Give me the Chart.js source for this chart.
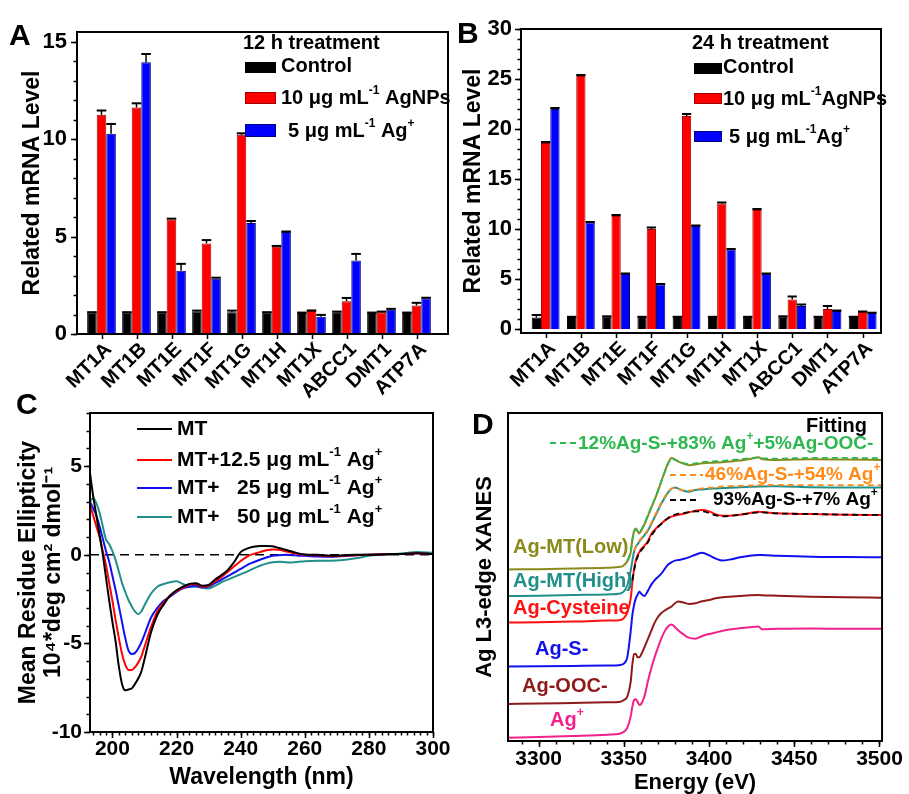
<!DOCTYPE html>
<html><head><meta charset="utf-8">
<script src="https://cdn.jsdelivr.net/npm/chart.js@4.4.1/dist/chart.umd.min.js"></script>
<style>
html,body{margin:0;padding:0;background:#fff;}
#wrap{position:relative;width:909px;height:794px;overflow:hidden;background:#fff;}
canvas{position:absolute;left:0;top:0;}
</style></head><body>
<div id="wrap">
<canvas id="cA" width="909" height="794"></canvas>
<canvas id="cB" width="909" height="794"></canvas>
<canvas id="cC" width="909" height="794"></canvas>
<canvas id="cD" width="909" height="794"></canvas>
</div>
<script>
// ---------- DATA ----------
const genes = ['MT1A','MT1B','MT1E','MT1F','MT1G','MT1H','MT1X','ABCC1','DMT1','ATP7A'];
// Panel A: 12 h treatment
const ctrl12     = [1.10, 1.10, 1.10, 1.15, 1.12, 1.10, 1.08, 1.12, 1.08, 1.08];
const ctrl12Err  = [0.02, 0.02, 0.02, 0.05, 0.08, 0.02, 0.02, 0.03, 0.02, 0.02];
const agnp12     = [11.25, 11.62, 5.88, 4.65, 10.22, 4.48, 1.18, 1.68, 1.12, 1.46];
const agnp12Err  = [0.22, 0.22, 0.04, 0.17, 0.08, 0.04, 0.03, 0.17, 0.03, 0.14];
const agion12    = [10.28, 13.95, 3.25, 2.83, 5.70, 5.23, 0.88, 3.77, 1.25, 1.83];
const agion12Err = [0.50, 0.42, 0.35, 0.06, 0.10, 0.03, 0.10, 0.34, 0.04, 0.03];
// Panel B: 24 h treatment
const ctrl24     = [1.15, 1.20, 1.25, 1.20, 1.20, 1.20, 1.20, 1.25, 1.20, 1.20];
const ctrl24Err  = [0.25, 0.02, 0.02, 0.02, 0.02, 0.02, 0.02, 0.02, 0.02, 0.02];
const agnp24     = [18.6, 25.3, 11.3, 10.0, 21.3, 12.55, 11.9, 2.95, 2.0, 1.7];
const agnp24Err  = [0.10, 0.10, 0.10, 0.15, 0.20, 0.10, 0.10, 0.30, 0.30, 0.05];
const agion24    = [22.0, 10.65, 5.5, 4.45, 10.3, 7.95, 5.5, 2.3, 1.8, 1.6];
const agion24Err = [0.10, 0.05, 0.05, 0.05, 0.05, 0.05, 0.05, 0.15, 0.05, 0.03];

// Panel C: CD spectra (wavelength nm)
const wavelength = [193,194,195,196,197,198,199,200,201,202,203,204,205,206,207,208,209,210,212,214,216,218,220,222,224,226,228,230,232,234,236,238,240,242,244,246,248,250,252,254,256,258,260,264,268,272,276,280,285,290,295,300];
const cdMT   = [4.6,3.3,2.2,1.1,0.0,-1.3,-2.6,-3.8,-4.9,-6.3,-7.3,-7.65,-7.6,-7.55,-7.3,-7.0,-6.6,-5.9,-4.4,-3.4,-2.8,-2.3,-2.0,-1.8,-1.65,-1.6,-1.75,-1.7,-1.4,-1.15,-0.85,-0.4,0.15,0.35,0.45,0.5,0.5,0.48,0.38,0.28,0.18,0.08,0.02,0.0,-0.05,-0.03,0.0,0.0,0.03,0.05,0.08,0.05];
const cd125  = [2.8,2.2,1.6,1.0,0.2,-0.6,-1.6,-2.6,-3.7,-4.7,-5.6,-6.2,-6.5,-6.5,-6.35,-6.1,-5.75,-5.2,-4.1,-3.2,-2.7,-2.3,-2.05,-1.85,-1.7,-1.65,-1.8,-1.75,-1.5,-1.25,-0.95,-0.65,-0.35,-0.1,0.05,0.15,0.25,0.3,0.28,0.2,0.12,0.05,0.0,-0.03,-0.08,-0.05,-0.02,0.0,0.03,0.05,0.08,0.05];
const cd25   = [3.0,2.6,2.2,1.6,0.9,0.2,-0.4,-1.2,-2.0,-2.9,-3.8,-4.7,-5.4,-5.6,-5.55,-5.3,-4.95,-4.5,-3.55,-3.0,-2.6,-2.35,-2.1,-1.9,-1.8,-1.75,-1.85,-1.8,-1.6,-1.4,-1.2,-1.0,-0.8,-0.58,-0.42,-0.28,-0.15,-0.06,-0.02,0.0,-0.02,-0.05,-0.06,-0.1,-0.11,-0.08,-0.03,0.0,0.03,0.05,0.08,0.05];
const cd50   = [3.0,3.2,2.9,2.35,1.6,0.85,0.6,0.2,-0.3,-0.95,-1.6,-2.1,-2.55,-2.9,-3.2,-3.35,-3.2,-2.85,-2.2,-1.8,-1.65,-1.55,-1.5,-1.65,-1.8,-1.8,-1.85,-1.9,-1.75,-1.55,-1.4,-1.25,-1.1,-0.95,-0.78,-0.62,-0.5,-0.42,-0.4,-0.42,-0.43,-0.4,-0.36,-0.34,-0.34,-0.3,-0.2,-0.06,0.0,0.07,0.15,0.12];

// Panel D: XANES (energy eV, stacked normalized intensity)
const energy = [3282,3300,3320,3340,3348,3350,3352,3354,3355,3356,3357,3358,3359,3360,3362,3364,3366,3368,3370,3372,3374,3376,3378,3380,3382,3385,3388,3392,3396,3400,3404,3408,3412,3418,3424,3429,3431,3440,3460,3480,3501];
const xAgIon  = [0.10,0.12,0.15,0.19,0.23,0.28,0.40,0.75,1.05,1.25,1.27,1.2,1.1,1.12,1.35,1.8,2.2,2.55,2.85,3.13,3.35,3.5,3.55,3.47,3.37,3.25,3.15,3.12,3.2,3.26,3.31,3.36,3.4,3.44,3.47,3.49,3.41,3.42,3.43,3.42,3.42];
const xAgOOC  = [1.13,1.14,1.16,1.18,1.2,1.25,1.35,1.8,2.35,2.65,2.66,2.55,2.55,2.62,2.85,3.1,3.35,3.6,3.78,3.9,3.98,4.04,4.1,4.2,4.25,4.22,4.18,4.2,4.26,4.3,4.35,4.38,4.4,4.42,4.44,4.45,4.44,4.43,4.4,4.38,4.37];
const xAgS    = [2.27,2.28,2.29,2.3,2.32,2.36,2.55,3.35,3.85,4.15,4.35,4.45,4.55,4.5,4.42,4.57,4.76,4.9,5.0,5.1,5.25,5.38,5.45,5.5,5.52,5.55,5.6,5.68,5.74,5.66,5.56,5.5,5.53,5.6,5.65,5.67,5.67,5.65,5.62,5.61,5.6];
const xAgCys  = [3.61,3.62,3.64,3.67,3.69,3.75,3.92,4.35,4.85,5.25,5.5,5.66,5.75,5.84,5.95,6.08,6.3,6.43,6.54,6.63,6.72,6.79,6.84,6.87,6.9,6.93,6.97,7.02,7.04,7.0,6.91,6.87,6.87,6.9,6.95,6.99,6.98,6.94,6.92,6.9,6.89];
const xMTHigh = [4.42,4.43,4.45,4.47,4.5,4.56,4.75,5.2,5.5,5.78,5.92,6.0,6.07,6.15,6.27,6.41,6.6,6.82,7.03,7.24,7.42,7.58,7.69,7.73,7.69,7.63,7.6,7.65,7.67,7.69,7.7,7.71,7.72,7.74,7.75,7.76,7.76,7.77,7.74,7.73,7.73];
const xMTLow  = [5.23,5.24,5.26,5.28,5.31,5.36,5.48,5.75,6.15,6.4,6.48,6.4,6.33,6.4,6.6,6.85,7.1,7.35,7.62,7.92,8.21,8.48,8.63,8.58,8.52,8.46,8.41,8.43,8.47,8.48,8.49,8.5,8.52,8.55,8.6,8.65,8.6,8.57,8.59,8.58,8.57];
const fitLow  = [null,null,null,null,null,null,5.5,5.78,6.12,6.36,6.45,6.4,6.35,6.42,6.62,6.87,7.12,7.37,7.64,7.93,8.2,8.46,8.6,8.57,8.52,8.47,8.44,8.46,8.5,8.52,8.53,8.54,8.56,8.59,8.62,8.64,8.62,8.61,8.63,8.63,8.62];
const fitHigh = [null,null,null,null,null,null,null,null,null,5.8,5.93,6.02,6.1,6.17,6.3,6.44,6.63,6.85,7.06,7.27,7.45,7.6,7.7,7.72,7.68,7.64,7.63,7.67,7.7,7.72,7.74,7.76,7.77,7.78,7.79,7.8,7.8,7.81,7.8,7.8,7.8];
const fitCys  = [null,null,null,null,null,null,null,null,4.9,5.2,5.45,5.6,5.72,5.8,5.92,6.05,6.25,6.4,6.52,6.62,6.72,6.8,6.86,6.9,6.93,6.95,6.98,7.0,7.0,6.95,6.88,6.85,6.86,6.9,6.94,6.97,6.97,6.94,6.92,6.9,6.89];

// ---------- HELPERS ----------
const FONT = "'Liberation Sans', Arial, Helvetica, sans-serif";
Chart.defaults.font.family = FONT;
Chart.defaults.color = '#000';
Chart.defaults.animation = false;
Chart.defaults.events = [];

function rich(ctx, parts, x, y, size, color, align) {
  const main = `bold ${size}px ${FONT}`, sup = `bold ${Math.round(size * 0.62)}px ${FONT}`;
  let w = 0;
  parts.forEach(([t, s]) => { ctx.font = s ? sup : main; w += ctx.measureText(t).width; });
  let cx = align === 'right' ? x - w : (align === 'center' ? x - w / 2 : x);
  ctx.fillStyle = color; ctx.textBaseline = 'middle'; ctx.textAlign = 'left';
  parts.forEach(([t, s]) => {
    ctx.font = s ? sup : main;
    ctx.fillText(t, cx, s ? y - size * 0.36 : y);
    cx += ctx.measureText(t).width;
  });
}
function letter(ctx, t, x, y) {
  ctx.font = `bold 30px ${FONT}`; ctx.fillStyle = '#000';
  ctx.textBaseline = 'alphabetic'; ctx.textAlign = 'left';
  ctx.fillText(t, x, y);
}
function makeFrame(marks) {
  return {
    id: 'frame',
    afterDraw(chart) {
      const {ctx, chartArea: a} = chart;
      ctx.save();
      ctx.strokeStyle = '#000';
      ctx.lineWidth = 1.5;
      marks.forEach(m => {
        const s = chart.scales[m.scale];
        const list = [];
        s.ticks.forEach(t => list.push([t.value, m.len]));
        if (m.minor) {
          for (let v = Math.ceil(s.min / m.minor) * m.minor; v <= s.max + 1e-9; v += m.minor) list.push([v, m.minorLen]);
        }
        list.forEach(([v, len]) => {
          const p = Math.round(s.getPixelForValue(v)) + 0.5;
          ctx.beginPath();
          if (s.isHorizontal()) { ctx.moveTo(p, a.bottom); ctx.lineTo(p, a.bottom + len); }
          else { ctx.moveTo(a.left, p); ctx.lineTo(a.left - len, p); }
          ctx.stroke();
        });
      });
      ctx.lineWidth = 2;
      ctx.strokeRect(a.left, a.top, a.right - a.left, a.bottom - a.top);
      ctx.restore();
    }
  };
}
const errorBars = {
  id: 'errorBars',
  afterDatasetsDraw(chart) {
    const {ctx} = chart, ys = chart.scales.y;
    ctx.save(); ctx.strokeStyle = '#000';
    chart.data.datasets.forEach((ds, di) => {
      if (!ds.errors) return;
      chart.getDatasetMeta(di).data.forEach((bar, i) => {
        const top = ys.getPixelForValue(ds.data[i].y + ds.errors[i]);
        const w = bar.width;
        ctx.lineWidth = 1.5;
        ctx.beginPath(); ctx.moveTo(bar.x, bar.y); ctx.lineTo(bar.x, top); ctx.stroke();
        ctx.lineWidth = 2;
        ctx.beginPath(); ctx.moveTo(bar.x - w / 2, top); ctx.lineTo(bar.x + w / 2, top); ctx.stroke();
      });
    });
    ctx.restore();
  }
};

function barPanel(id, c) {
  const mk = (label, vals, errs, fill, edge) => ({
    label, data: vals.map((v, i) => ({x: i, y: v})), errors: errs,
    backgroundColor: fill, borderColor: edge, borderWidth: 1,
    categoryPercentage: c.cp, barPercentage: 1
  });
  return new Chart(document.getElementById(id), {
    type: 'bar',
    data: { datasets: [
      mk('Control', c.ctrl, c.ctrlErr, '#000000', '#000000'),
      mk('10 μg mL⁻¹ AgNPs', c.np, c.npErr, '#ff0000', '#a00000'),
      mk('5 μg mL⁻¹ Ag⁺', c.ion, c.ionErr, '#0000ff', '#000080')
    ]},
    options: {
      responsive: false,
      layout: { padding: c.pad },
      plugins: { legend: { display: false }, tooltip: { enabled: false } },
      scales: {
        x: { type: 'linear', min: c.xmin, max: c.xmax, offset: false,
          afterFit: s => { s.height = c.xh; },
          afterBuildTicks: s => { s.ticks = genes.map((g, i) => ({ value: i })); },
          ticks: { autoSkip: false, minRotation: 45, maxRotation: 45, padding: 4, labelOffset: 7,
                   font: { size: 20, weight: 'bold' }, color: '#000', callback: v => genes[v] },
          grid: { display: false, drawTicks: false }, border: { display: false } },
        y: { min: c.ymin, max: c.ymax,
          afterFit: s => { s.width = c.yw; },
          ticks: { stepSize: 5, includeBounds: false, padding: c.ypad, font: { size: 22, weight: 'bold' }, color: '#000' },
          grid: { display: false, drawTicks: false }, border: { display: false },
          title: { display: true, text: 'Related mRNA Level', color: '#000',
                   font: { size: 23, weight: 'bold' }, padding: { top: c.tpad, bottom: 0 } } }
      }
    },
    plugins: [errorBars, makeFrame([{scale: 'x', len: 5}, {scale: 'y', len: 6, minor: 1, minorLen: 3.5}]), c.decor]
  });
}

function barLegend(ctx, L) {
  rich(ctx, [[L.title]], L.x, L.ty, 20, '#000');
  const rows = [
    { fill: '#000', edge: '#000', parts: [['Control']] },
    { fill: '#ff0000', edge: '#a00000', parts: L.np },
    { fill: '#0000ff', edge: '#000080', parts: L.ion }
  ];
  rows.forEach((r, i) => {
    const [y0, y1] = L.sw[i];
    ctx.fillStyle = r.fill; ctx.fillRect(L.x + 2, y0, L.sww, y1 - y0);
    ctx.strokeStyle = r.edge; ctx.lineWidth = 1; ctx.strokeRect(L.x + 2.5, y0 + 0.5, L.sww - 1, y1 - y0 - 1);
    rich(ctx, r.parts, L.tx[i], L.yy[i], 20, '#000');
  });
}

// ---------- PANEL A ----------
barPanel('cA', {
  ctrl: ctrl12, ctrlErr: ctrl12Err, np: agnp12, npErr: agnp12Err, ion: agion12, ionErr: agion12Err,
  cp: 0.82, xmin: -0.7, xmax: 9.9, ymin: 0, ymax: 15.5,
  pad: { left: 0, top: 32, right: 461, bottom: 394 }, xh: 66, yw: 77, ypad: 10, tpad: 19,
  decor: { id: 'decorA', afterDraw(chart) {
    const ctx = chart.ctx; ctx.save();
    letter(ctx, 'A', 9, 45);
    barLegend(ctx, { title: '12 h treatment', x: 243, ty: 43, sww: 31,
      sw: [[62, 73], [92, 104], [124, 137]], tx: [281, 281, 288], yy: [66, 98, 131],
      np: [['10 μg mL'], ['-1', 1], [' AgNPs']], ion: [['5 μg mL'], ['-1', 1], [' Ag'], ['+', 1]] });
    ctx.restore();
  } }
});

// ---------- PANEL B ----------
barPanel('cB', {
  ctrl: ctrl24, ctrlErr: ctrl24Err, np: agnp24, npErr: agnp24Err, ion: agion24, ionErr: agion24Err,
  cp: 0.79, xmin: -0.7, xmax: 9.52, ymin: -0.4, ymax: 30,
  pad: { left: 455, top: 29, right: 28, bottom: 394 }, xh: 67, yw: 66, ypad: 9, tpad: 5,
  decor: { id: 'decorB', afterDraw(chart) {
    const ctx = chart.ctx; ctx.save();
    letter(ctx, 'B', 457, 43);
    barLegend(ctx, { title: '24 h treatment', x: 692, ty: 43, sww: 28,
      sw: [[63, 74], [93, 104], [131, 142]], tx: [723, 723, 729], yy: [67, 99, 137],
      np: [['10 μg mL'], ['-1', 1], ['AgNPs']], ion: [['5 μg mL'], ['-1', 1], ['Ag'], ['+', 1]] });
    ctx.restore();
  } }
});

// ---------- PANEL C ----------
const cdSeries = [
  { label: 'MT', vals: cdMT, color: '#000000', parts: [['MT']] },
  { label: 'MT+12.5 μg mL⁻¹ Ag⁺', vals: cd125, color: '#ff0000', parts: [['MT+12.5 μg mL'], ['-1', 1], [' Ag'], ['+', 1]] },
  { label: 'MT+   25 μg mL⁻¹ Ag⁺', vals: cd25, color: '#1010f0', parts: [['MT+   25 μg mL'], ['-1', 1], [' Ag'], ['+', 1]] },
  { label: 'MT+   50 μg mL⁻¹ Ag⁺', vals: cd50, color: '#21908a', parts: [['MT+   50 μg mL'], ['-1', 1], [' Ag'], ['+', 1]] }
];
new Chart(document.getElementById('cC'), {
  type: 'line',
  data: { datasets: cdSeries.map(s => ({
    label: s.label, data: wavelength.map((x, i) => ({ x, y: s.vals[i] })),
    borderColor: s.color, borderWidth: 2, pointRadius: 0, cubicInterpolationMode: 'monotone', fill: false
  })) },
  options: {
    responsive: false,
    layout: { padding: { left: 0, top: 413, right: 476, bottom: 2 } },
    plugins: { legend: { display: false }, tooltip: { enabled: false } },
    scales: {
      x: { type: 'linear', min: 193, max: 300,
        afterFit: s => { s.height = 60; },
        ticks: { stepSize: 20, includeBounds: false, padding: 5, font: { size: 21, weight: 'bold' }, color: '#000',
                 callback: v => String(v) },
        grid: { display: false, drawTicks: false }, border: { display: false },
        title: { display: true, text: 'Wavelength (nm)', color: '#000', font: { size: 23, weight: 'bold' }, padding: { top: 0, bottom: 1 } } },
      y: { min: -10, max: 8,
        afterFit: s => { s.width = 90; },
        ticks: { stepSize: 5, includeBounds: false, padding: 8, font: { size: 21, weight: 'bold' }, color: '#000' },
        grid: { display: false, drawTicks: false }, border: { display: false },
        title: { display: true, text: ['Mean Residue Ellipticity', '10⁴*deg cm² dmol⁻¹'], color: '#000',
                 font: { size: 23, weight: 'bold', lineHeight: 1.1 }, padding: { top: 16, bottom: 0 } } }
    }
  },
  plugins: [
    { id: 'zeroLine', beforeDatasetsDraw(chart) {
        const {ctx, chartArea: a} = chart; const y = chart.scales.y.getPixelForValue(0);
        ctx.save(); ctx.strokeStyle = '#000'; ctx.lineWidth = 1.5; ctx.setLineDash([9, 6]);
        ctx.beginPath(); ctx.moveTo(a.left, y); ctx.lineTo(a.right, y); ctx.stroke(); ctx.restore();
    } },
    makeFrame([{scale: 'x', len: 6, minor: 2, minorLen: 3.5}, {scale: 'y', len: 6, minor: 1, minorLen: 3.5}]),
    { id: 'decorC', afterDraw(chart) {
        const ctx = chart.ctx; ctx.save();
        letter(ctx, 'C', 16, 414);
        const ys = [429, 460, 488, 517];
        cdSeries.forEach((s, i) => {
          ctx.strokeStyle = s.color; ctx.lineWidth = 2; ctx.setLineDash([]);
          ctx.beginPath(); ctx.moveTo(137, ys[i]); ctx.lineTo(172, ys[i]); ctx.stroke();
          rich(ctx, s.parts, 177, ys[i], 21, '#000');
        });
        ctx.restore();
    } }
  ]
});

// ---------- PANEL D ----------
const xanes = [
  { label: 'Fit Ag-MT(Low)', vals: fitLow, color: '#2db84f', dash: [6, 4] },
  { label: 'Fit Ag-MT(High)', vals: fitHigh, color: '#ff8c1a', dash: [6, 4] },
  { label: 'Fit Ag-Cysteine', vals: fitCys, color: '#000000', dash: [6, 4] },
  { label: 'Ag-MT(Low)', vals: xMTLow, color: '#8a8a1a' },
  { label: 'Ag-MT(High)', vals: xMTHigh, color: '#21908a' },
  { label: 'Ag-Cysteine', vals: xAgCys, color: '#ff1010' },
  { label: 'Ag-S-', vals: xAgS, color: '#1010f0' },
  { label: 'Ag-OOC-', vals: xAgOOC, color: '#8e1a1a' },
  { label: 'Ag+', vals: xAgIon, color: '#f0208c' }
];
new Chart(document.getElementById('cD'), {
  type: 'line',
  data: { datasets: xanes.map(s => ({
    label: s.label, data: energy.map((x, i) => ({ x, y: s.vals[i] })),
    borderColor: s.color, borderWidth: s.dash ? 1.8 : 2, borderDash: s.dash || [], pointRadius: 0, spanGaps: false,
    cubicInterpolationMode: 'monotone', fill: false
  })) },
  options: {
    responsive: false,
    layout: { padding: { left: 460, top: 413, right: 23, bottom: 0 } },
    plugins: { legend: { display: false }, tooltip: { enabled: false } },
    scales: {
      x: { type: 'linear', min: 3282, max: 3501.5,
        afterFit: s => { s.height = 53; },
        ticks: { stepSize: 50, includeBounds: false, padding: 6, font: { size: 21, weight: 'bold' }, color: '#000',
                 callback: v => String(v) },
        grid: { display: false, drawTicks: false }, border: { display: false },
        title: { display: true, text: 'Energy (eV)', color: '#000', font: { size: 22, weight: 'bold', lineHeight: 1 }, padding: { top: 0, bottom: 0 } } },
      y: { min: 0, max: 10,
        afterFit: s => { s.width = 48; },
        ticks: { display: false },
        grid: { display: false, drawTicks: false }, border: { display: false },
        title: { display: true, text: 'Ag L3-edge XANES', color: '#000', font: { size: 22, weight: 'bold' }, padding: { top: 12, bottom: 0 } } }
    }
  },
  plugins: [
    makeFrame([{scale: 'x', len: 6, minor: 10, minorLen: 3.5}]),
    { id: 'decorD', afterDraw(chart) {
        const ctx = chart.ctx; ctx.save();
        letter(ctx, 'D', 472, 434);
        rich(ctx, [['Fitting']], 867, 426, 20, '#000', 'right');
        const dash = (x0, x1, y, c) => { ctx.strokeStyle = c; ctx.lineWidth = 2; ctx.setLineDash([6, 4]);
          ctx.beginPath(); ctx.moveTo(x0, y); ctx.lineTo(x1, y); ctx.stroke(); ctx.setLineDash([]); };
        dash(550, 577, 443, '#2db84f');
        rich(ctx, [['12%Ag-S-+83% Ag'], ['+', 1], ['+5%Ag-OOC-']], 578, 444, 19, '#2db84f');
        dash(670, 703, 475, '#ff8c1a');
        rich(ctx, [['46%Ag-S-+54% Ag'], ['+', 1]], 705, 475, 19, '#ff8c1a');
        dash(670, 700, 500, '#000');
        rich(ctx, [['93%Ag-S-+7% Ag'], ['+', 1]], 713, 500, 19, '#000');
        rich(ctx, [['Ag-MT(Low)']], 513, 547, 20, '#8a8a1a');
        rich(ctx, [['Ag-MT(High)']], 513, 581, 20, '#21908a');
        rich(ctx, [['Ag-Cysteine']], 513, 608, 20, '#ff1010');
        rich(ctx, [['Ag-S-']], 535, 649, 20, '#1010f0');
        rich(ctx, [['Ag-OOC-']], 522, 686, 20, '#8e1a1a');
        rich(ctx, [['Ag'], ['+', 1]], 550, 720, 20, '#f0208c');
        ctx.restore();
    } }
  ]
});
</script>
</body></html>
